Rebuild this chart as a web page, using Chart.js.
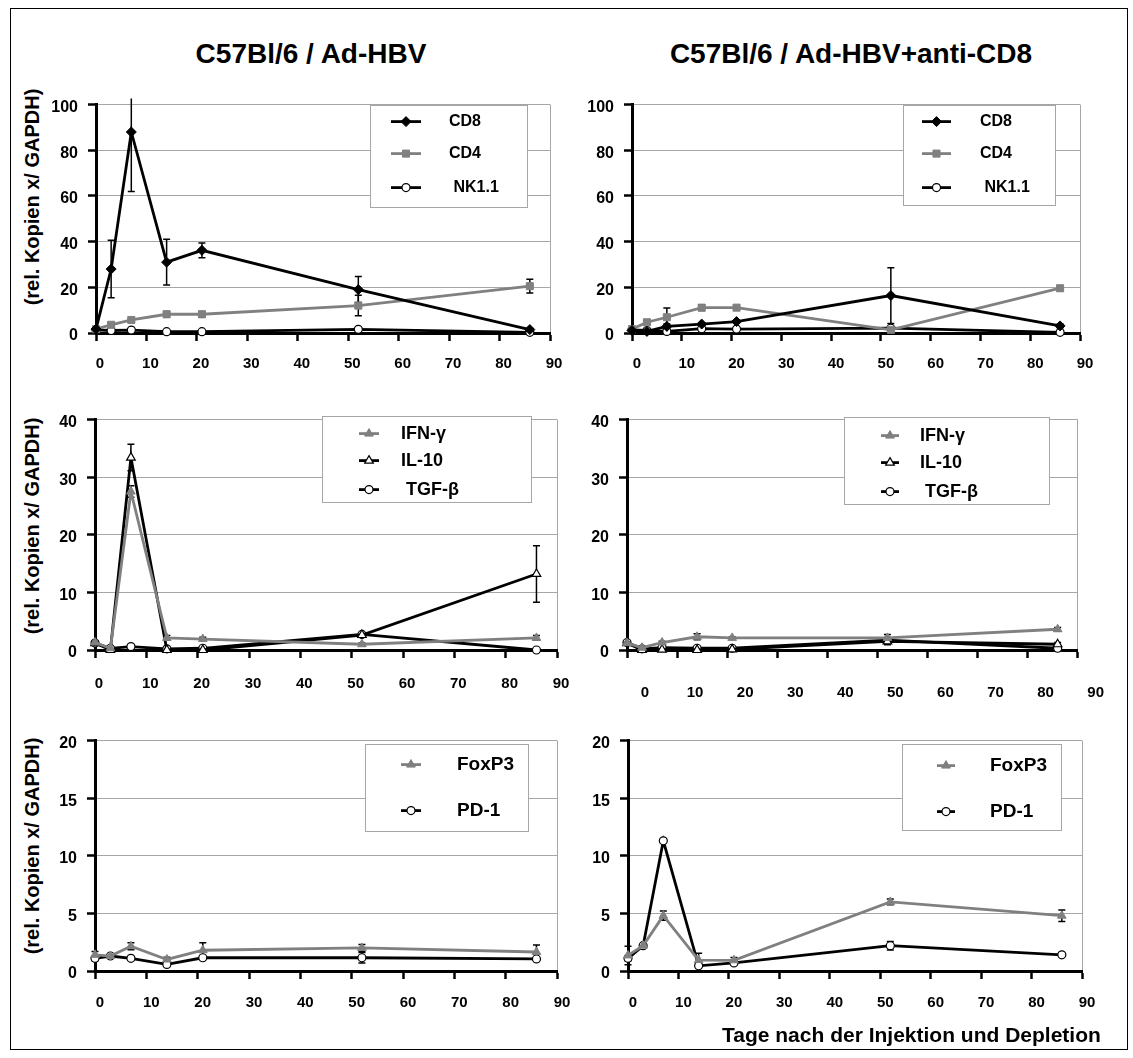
<!DOCTYPE html>
<html>
<head>
<meta charset="utf-8">
<title>Expression im Zeitverlauf</title>
<script src="https://cdn.jsdelivr.net/npm/chart.js"></script>
<style>
  body { margin: 0; background: #fff; font-family: "Liberation Sans", Arial, sans-serif; }
  #page { position: relative; width: 1133px; height: 1058px; overflow: hidden; }
  #frame { position: absolute; left: 10px; top: 8px; width: 1118px; height: 1042px; border: 1px solid #000; box-sizing: border-box; }
  canvas { position: absolute; }
  .title { position: absolute; top: 38px; line-height: 32px; font-size: 28px; font-weight: bold; white-space: nowrap; transform: translateX(-50%); }
  .ytitle { position: absolute; font-size: 20px; font-weight: bold; white-space: nowrap; transform: translate(-50%, -50%) rotate(-90deg); }
  #xtitle { position: absolute; left: 722px; top: 1022px; line-height: 25px; font-size: 21px; font-weight: bold; white-space: nowrap; }
</style>
</head>
<body>
<div id="page">
  <div id="frame"></div>
  <div class="title" style="left:311px">C57Bl/6 / Ad-HBV</div>
  <div class="title" style="left:851px">C57Bl/6 / Ad-HBV+anti-CD8</div>
  <div class="ytitle" style="left:32px; top:197px">(rel. Kopien x/ GAPDH)</div>
  <div class="ytitle" style="left:32px; top:526px">(rel. Kopien x/ GAPDH)</div>
  <div class="ytitle" style="left:32px; top:846px">(rel. Kopien x/ GAPDH)</div>
  <canvas id="p1"></canvas>
  <canvas id="p2"></canvas>
  <canvas id="p3"></canvas>
  <canvas id="p4"></canvas>
  <canvas id="p5"></canvas>
  <canvas id="p6"></canvas>
  <div id="xtitle">Tage nach der Injektion und Depletion</div>
</div>

<script>
// days after injection (same for every series)
const days = [0, 3, 7, 14, 21, 52, 86];

// y axis ranges per row: [max, step]
const yRangeCells = [100, 20];
const yRangeCytokines = [40, 10];
const yRangeMarkers = [20, 5];

// Ad-HBV
const cd8Hbv = [1.7, 28, 88, 31, 36.2, 19, 1.5];
const cd8HbvErr = [0.4, 12.6, 26, 10, 3.2, 5.7, 0.5];
const cd4Hbv = [1.7, 3.6, 5.7, 8.2, 8.2, 12, 20.5];
const cd4HbvErr = [0.3, 0.8, 0.8, 1.2, 1.2, 4.5, 3];
const nkHbv = [1.4, 1.1, 1.3, 0.6, 0.6, 1.6, 0.3];
const nkHbvErr = [0, 0, 0, 0, 0, 0, 0];

const ifnHbv = [1.3, 0.3, 27.5, 2.1, 1.9, 1.0, 2.1];
const ifnHbvErr = [0.3, 0, 1, 0.4, 0.3, 0.2, 0.4];
const il10Hbv = [1.2, 0, 33.4, 0, 0, 2.6, 13.2];
const il10HbvErr = [0, 0, 2.3, 0, 0, 0.2, 4.9];
const tgfHbv = [1.2, 0.3, 0.6, 0.2, 0.3, 2.7, 0];
const tgfHbvErr = [0, 0, 0, 0, 0, 0, 0];

const foxp3Hbv = [1.4, 1.3, 2.15, 1.0, 1.8, 2.0, 1.65];
const foxp3HbvErr = [0.3, 0, 0.3, 0.2, 0.65, 0.3, 0.6];
const pd1Hbv = [1.1, 1.3, 1.1, 0.57, 1.15, 1.15, 1.05];
const pd1HbvErr = [0.2, 0, 0, 0, 0, 0.45, 0];

// Ad-HBV + anti-CD8
const cd8Depl = [1.1, 0.7, 2.9, 3.9, 5, 16.4, 3.1];
const cd8DeplErr = [0, 0.3, 1.0, 0.6, 0.6, 12.2, 0.8];
const cd4Depl = [1.7, 4.7, 6.9, 11.1, 11.1, 1.4, 19.6];
const cd4DeplErr = [0.3, 0.8, 4.1, 1.2, 0.8, 0.5, 1.0];
const nkDepl = [1.4, 1.1, 0.7, 1.9, 1.7, 2.1, 0.3];
const nkDeplErr = [0, 0, 0, 0, 0, 0, 0];

const ifnDepl = [1.2, 0.4, 1.3, 2.3, 2.1, 2.1, 3.6];
const ifnDeplErr = [0, 0, 0.2, 0.5, 0.2, 0.6, 0.3];
const il10Depl = [1.2, 0, 0.05, 0, 0.1, 1.5, 1.0];
const il10DeplErr = [0, 0, 0, 0, 0, 0.6, 0.3];
const tgfDepl = [1.3, 0.2, 0.4, 0.3, 0.3, 1.7, 0.3];
const tgfDeplErr = [0, 0, 0, 0, 0, 0, 0];

const foxp3Depl = [1.35, 2.2, 4.8, 0.95, 0.93, 6.0, 4.8];
const foxp3DeplErr = [0.8, 0, 0.4, 0.6, 0.25, 0.25, 0.5];
const pd1Depl = [1.1, 2.2, 11.3, 0.45, 0.7, 2.2, 1.4];
const pd1DeplErr = [0.2, 0, 0, 0, 0, 0.37, 0];

const gray = '#808080';
const gridGray = '#a6a6a6';
const fontFamily = '"Liberation Sans", Arial, sans-serif';

// marker looks
const blackDiamond = { line: '#000', point: 'rectRot', radius: 5, fill: '#000', edge: '#000', edgeWidth: 1 };
const graySquare = { line: gray, point: 'rect', radius: 5, fill: gray, edge: gray, edgeWidth: 1 };
const whiteCircle = { line: '#000', point: 'circle', radius: 4, fill: '#fff', edge: '#000', edgeWidth: 1.2 };
const grayTriangle = { line: gray, point: 'triangle', radius: 5, fill: gray, edge: gray, edgeWidth: 1 };
const whiteTriangle = { line: '#000', point: 'triangle', radius: 5, fill: '#fff', edge: '#000', edgeWidth: 1.2 };

function series(label, vals, errs, st) {
    return {
        label: label,
        data: days.map(function (d, i) { return { x: d, y: vals[i] }; }),
        errors: errs,
        borderColor: st.line,
        backgroundColor: st.fill,
        borderWidth: 2.8,
        tension: 0,
        pointStyle: st.point,
        pointRadius: st.radius,
        pointHoverRadius: st.radius,
        pointBackgroundColor: st.fill,
        pointBorderColor: st.edge,
        pointBorderWidth: st.edgeWidth,
        clip: false
    };
}

// simple marker drawing for the legend boxes
function drawMarker(ctx, ds, x, y) {
    const r = ds.pointRadius;
    ctx.fillStyle = ds.pointBackgroundColor;
    ctx.strokeStyle = ds.pointBorderColor;
    ctx.lineWidth = ds.pointBorderWidth;
    ctx.beginPath();
    if (ds.pointStyle === 'circle') {
        ctx.arc(x, y, r, 0, Math.PI * 2);
    } else if (ds.pointStyle === 'rect') {
        const s = Math.SQRT1_2 * r;
        ctx.rect(x - s, y - s, 2 * s, 2 * s);
    } else if (ds.pointStyle === 'rectRot') {
        ctx.moveTo(x - r, y); ctx.lineTo(x, y - r); ctx.lineTo(x + r, y); ctx.lineTo(x, y + r);
        ctx.closePath();
    } else {
        for (let k = 0; k < 3; k++) {
            const a = k * 2 * Math.PI / 3;
            const px = x + Math.sin(a) * r, py = y - Math.cos(a) * r;
            k === 0 ? ctx.moveTo(px, py) : ctx.lineTo(px, py);
        }
        ctx.closePath();
    }
    ctx.fill();
    ctx.stroke();
}

const errorBars = {
    id: 'errorBars',
    beforeDatasetsDraw(chart) {
        const ctx = chart.ctx, a = chart.chartArea;
        const xs = chart.scales.x, ys = chart.scales.y;
        ctx.save();
        ctx.beginPath();
        ctx.rect(a.left - 10, a.top - 6, a.right - a.left + 20, a.bottom - a.top + 16);
        ctx.clip();
        ctx.strokeStyle = '#000';
        ctx.lineWidth = 1.5;
        chart.data.datasets.forEach(function (ds) {
            if (!ds.errors) return;
            ds.data.forEach(function (pt, i) {
                const e = ds.errors[i];
                if (!e) return;
                const x = xs.getPixelForValue(pt.x);
                const top = ys.getPixelForValue(pt.y + e);
                const bot = ys.getPixelForValue(Math.max(pt.y - e, 0));
                ctx.beginPath();
                ctx.moveTo(x, top); ctx.lineTo(x, bot);
                ctx.moveTo(x - 3.5, top); ctx.lineTo(x + 3.5, top);
                if (pt.y - e > 0) { ctx.moveTo(x - 3.5, bot); ctx.lineTo(x + 3.5, bot); }
                ctx.stroke();
            });
        });
        ctx.restore();
    }
};

// legend box inside the plot area, offsets relative to the chart area
const boxLegend = {
    id: 'boxLegend',
    afterDraw(chart, args, opts) {
        if (!opts || !opts.rows) return;
        const ctx = chart.ctx, a = chart.chartArea;
        const x0 = Math.round(a.left + opts.left), y0 = Math.round(a.top + opts.top);
        ctx.save();
        ctx.fillStyle = '#fff';
        ctx.fillRect(x0, y0, opts.width, opts.height);
        ctx.strokeStyle = gridGray;
        ctx.lineWidth = 1;
        ctx.strokeRect(x0 + 0.5, y0 + 0.5, opts.width, opts.height);
        ctx.font = 'bold ' + opts.fontSize + 'px ' + fontFamily;
        ctx.textBaseline = 'middle';
        chart.data.datasets.forEach(function (ds, i) {
            const y = a.top + opts.rows[i];
            const s0 = a.left + opts.sym[0], s1 = a.left + opts.sym[1];
            ctx.strokeStyle = ds.borderColor;
            ctx.lineWidth = ds.borderWidth;
            ctx.beginPath();
            ctx.moveTo(s0, y); ctx.lineTo(s1, y);
            ctx.stroke();
            drawMarker(ctx, ds, (s0 + s1) / 2, y);
            ctx.fillStyle = '#000';
            ctx.fillText(ds.legendText || ds.label, a.left + opts.textX, y);
        });
        ctx.restore();
    }
};

function makePanel(id, area, yRange, datasets, legend, xPad, xShift) {
    const canvas = document.getElementById(id);
    const w = area.right - area.left, h = area.bottom - area.top;
    canvas.width = w + 90;
    canvas.height = h + 65;
    canvas.style.left = (area.left - 60) + 'px';
    canvas.style.top = (area.top - 15) + 'px';

    return new Chart(canvas, {
        type: 'line',
        data: { datasets: datasets },
        options: {
            responsive: false,
            animation: false,
            devicePixelRatio: 1,
            layout: { padding: { top: 15, right: 30, left: 0, bottom: 0 } },
            plugins: {
                legend: { display: false },
                tooltip: { enabled: false },
                boxLegend: legend
            },
            scales: {
                x: {
                    type: 'linear', min: 0, max: 90,
                    afterFit: function (s) { s.height = 50; },
                    ticks: { stepSize: 10, padding: xPad, labelOffset: xShift, color: '#000', font: { family: fontFamily, size: 15, weight: 'bold' } },
                    grid: {
                        color: function (c) { return c.tick && c.tick.value === 90 ? gridGray : 'rgba(0,0,0,0)'; },
                        tickColor: '#000', tickLength: 8, tickWidth: 2.5, lineWidth: 1
                    },
                    border: { color: '#000', width: 3 }
                },
                y: {
                    min: 0, max: yRange[0],
                    afterFit: function (s) { s.width = 60; },
                    ticks: { stepSize: yRange[1], padding: 10, labelOffset: 3, color: '#000', font: { family: fontFamily, size: 16, weight: 'bold' } },
                    grid: { color: gridGray, tickColor: '#000', tickLength: 8, tickWidth: 2.5, lineWidth: 1 },
                    border: { color: '#000', width: 3 }
                }
            }
        },
        plugins: [errorBars, boxLegend]
    });
}

const nk1 = series('NK1.1', nkHbv, nkHbvErr, whiteCircle);
nk1.legendText = ' NK1.1';
makePanel('p1', { left: 96, right: 550, top: 100, bottom: 333 }, yRangeCells, [
    series('CD8', cd8Hbv, cd8HbvErr, blackDiamond),
    series('CD4', cd4Hbv, cd4HbvErr, graySquare),
    nk1
], { left: 274, top: 0, width: 157, height: 102, rows: [17, 49, 83], sym: [295, 325], textX: 353, fontSize: 16 }, 14, 4);

const nk2 = series('NK1.1', nkDepl, nkDeplErr, whiteCircle);
nk2.legendText = ' NK1.1';
makePanel('p2', { left: 632, right: 1080, top: 100, bottom: 333 }, yRangeCells, [
    series('CD8', cd8Depl, cd8DeplErr, blackDiamond),
    series('CD4', cd4Depl, cd4DeplErr, graySquare),
    nk2
], { left: 271, top: 0, width: 152, height: 100, rows: [17, 49, 83], sym: [290, 319], textX: 348, fontSize: 16 }, 14, 5);

const tgf3 = series('TGF-β', tgfHbv, tgfHbvErr, whiteCircle);
tgf3.legendText = ' TGF-β';
makePanel('p3', { left: 95, right: 557, top: 415, bottom: 650 }, yRangeCytokines, [
    series('IFN-γ', ifnHbv, ifnHbvErr, grayTriangle),
    series('IL-10', il10Hbv, il10HbvErr, whiteTriangle),
    tgf3
], { left: 227, top: -4, width: 209, height: 86, rows: [14, 41, 70], sym: [264, 284], textX: 306, fontSize: 18 }, 17, 4);

const tgf4 = series('TGF-β', tgfDepl, tgfDeplErr, whiteCircle);
tgf4.legendText = ' TGF-β';
makePanel('p4', { left: 627, right: 1082, top: 415, bottom: 650 }, yRangeCytokines, [
    series('IFN-γ', ifnDepl, ifnDeplErr, grayTriangle),
    series('IL-10', il10Depl, il10DeplErr, whiteTriangle),
    tgf4
], { left: 217, top: -3, width: 205, height: 87, rows: [16, 43, 72], sym: [254, 272], textX: 293, fontSize: 18 }, 26, 18);

makePanel('p5', { left: 95, right: 557, top: 736, bottom: 971 }, yRangeMarkers, [
    series('FoxP3', foxp3Hbv, foxp3HbvErr, grayTriangle),
    series('PD-1', pd1Hbv, pd1HbvErr, whiteCircle)
], { left: 270, top: 3, width: 163, height: 87, rows: [24, 70], sym: [306, 326], textX: 362, fontSize: 19 }, 15, 5);

makePanel('p6', { left: 628, right: 1082, top: 736, bottom: 971 }, yRangeMarkers, [
    series('FoxP3', foxp3Depl, foxp3DeplErr, grayTriangle),
    series('PD-1', pd1Depl, pd1DeplErr, whiteCircle)
], { left: 274, top: 3, width: 159, height: 86, rows: [25, 71], sym: [309, 327], textX: 362, fontSize: 19 }, 15, 5);
</script>
</body>
</html>
